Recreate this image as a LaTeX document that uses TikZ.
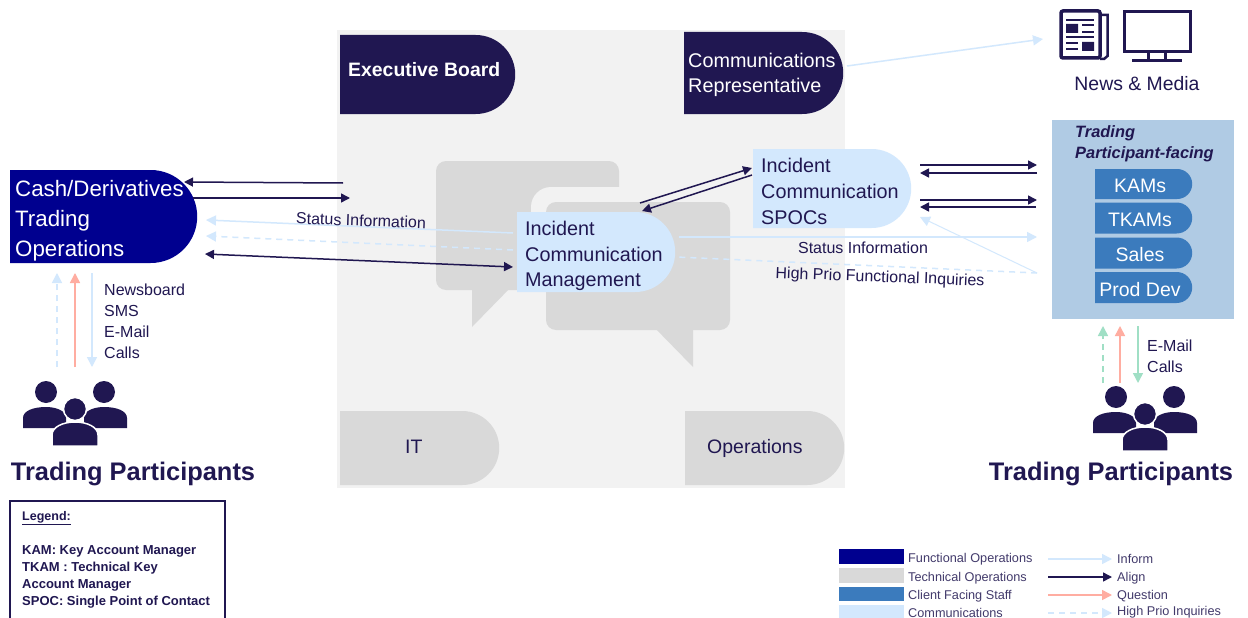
\documentclass[tikz,border=0pt]{standalone}
\usepackage{fontspec}
\setmainfont{Liberation Sans}
\usetikzlibrary{arrows.meta,shapes.misc}
\definecolor{navy}{HTML}{201751}
\definecolor{funcblue}{HTML}{00008F}
\definecolor{techgrey}{HTML}{D9D9D9}
\definecolor{paneGrey}{HTML}{F2F2F2}
\definecolor{commblue}{HTML}{D3E8FD}
\definecolor{staffblue}{HTML}{3B7BBD}
\definecolor{facingblue}{HTML}{B0CBE4}
\definecolor{salmon}{HTML}{FFADA1}
\definecolor{mint}{HTML}{A0DFC5}
\tikzset{
  dbox/.style={rounded rectangle,rounded rectangle west arc=none,inner sep=0pt,anchor=west},
  boxtext/.style={anchor=west,align=left,inner sep=0pt,text=navy,font=\fontsize{19.8}{25.6}\selectfont},
  stafftext/.style={text=white,inner sep=0pt,font=\fontsize{19.5}{24}\selectfont},
  plaintext/.style={inner sep=0pt,text=navy,font=\fontsize{16}{21}\selectfont},
  listtext/.style={anchor=west,align=left,inner sep=0pt,text=navy,font=\fontsize{16}{21}\selectfont},
  bigtext/.style={inner sep=0pt,text=navy,font=\bfseries\fontsize{25.4}{30}\selectfont},
  legendtext/.style={anchor=west,inner sep=0pt,text=navy!85,font=\fontsize{12.7}{15}\selectfont},
  swatch/.style={anchor=north west,inner sep=0pt,minimum width=65pt},
  align line/.style={draw=navy,line width=1.5pt,-{Triangle[length=9pt,width=9pt]}},
  inform line/.style={draw=commblue,line width=1.5pt,-{Triangle[length=10pt,width=10pt]}},
  prio line/.style={inform line,dash pattern=on 6pt off 5pt},
  question line/.style={draw=salmon,line width=1.5pt,-{Triangle[length=10pt,width=10pt]}},
  people/.pic={
    \fill[navy] (-29,-17) circle (11) (29,-17) circle (11);
    \fill[navy] (-52,19) -- (-52,9) .. controls (-52,2) and (-42,-2) .. (-29,-2)
      .. controls (-20,-2) and (-12,1) .. (-9,6) -- (-9,19) -- cycle;
    \fill[navy] (52,19) -- (52,9) .. controls (52,2) and (42,-2) .. (29,-2)
      .. controls (20,-2) and (12,1) .. (9,6) -- (9,19) -- cycle;
    \filldraw[navy,draw=white,line width=1.5pt] (0,0) circle (11.5);
    \filldraw[navy,draw=white,line width=1.5pt] (-23,37) -- (-23,26) .. controls (-23,18) and (-12,13) .. (0,13)
      .. controls (12,13) and (23,18) .. (23,26) -- (23,37) -- cycle;
  }
}
\begin{document}
\begin{tikzpicture}[x=1pt,y=-1pt]
\clip (0,0) rectangle (1248,618);
\fill[white] (0,0) rectangle (1248,618);
%%%%%%%%%%%%%%%%%%%%%%%%%%%%%% centre pane
\fill[paneGrey] (337,30) rectangle (845,488);
\fill[techgrey,rounded corners=10pt] (436,161) rectangle (619,290);
\fill[techgrey] (472,285) -- (513,285) -- (472,327) -- cycle;
\fill[paneGrey,rounded corners=20pt] (531,187) rectangle (745,345);
\fill[techgrey,rounded corners=10pt] (546,202) rectangle (730,330);
\fill[techgrey] (652,325) -- (693,325) -- (693,367) -- cycle;
%%%%%%%%%%%%%%%%%%%%%%%%%%%%%% boxes
\node[dbox,fill=navy,minimum width=175pt,minimum height=79pt] (board) at (340,74.5) {};
\node[boxtext,text=white,font=\bfseries\fontsize{19.4}{24}\selectfont] (boardtext) at (348,70) {Executive Board};
\node[dbox,fill=navy,minimum width=159pt,minimum height=82pt] (rep) at (684,73) {};
\node[boxtext,text=white] (reptext) at (688,75) {Communications\\Representative};
\node[dbox,fill=techgrey,minimum width=159pt,minimum height=74pt] (it) at (340,448) {};
\node[boxtext,font=\fontsize{19.5}{24}\selectfont] (ittext) at (405,446.5) {IT};
\node[dbox,fill=techgrey,minimum width=159pt,minimum height=74pt] (ops) at (685,448) {};
\node[boxtext,font=\fontsize{19.5}{24}\selectfont] (opstext) at (707,448) {Operations};
\node[dbox,fill=commblue,minimum width=158pt,minimum height=80pt] (icm) at (517,252) {};
\node[boxtext] (icmtext) at (525,256) {Incident\\Communication\\Management};
\node[dbox,fill=commblue,minimum width=158pt,minimum height=79pt] (spoc) at (753,188.5) {};
\node[boxtext] (spoctext) at (761,191.5) {Incident\\Communication\\SPOCs};
\node[dbox,fill=funcblue,minimum width=187pt,minimum height=93pt] (cash) at (10,216.5) {};
\node[boxtext,text=white,font=\fontsize{22.3}{30}\selectfont] (cashtext) at (15,221) {Cash/Derivatives\\Trading\\Operations};
%%%%%%%%%%%%%%%%%%%%%%%%%%%%%% participant-facing panel
\node[anchor=north west,fill=facingblue,inner sep=0pt,minimum width=182pt,minimum height=199pt] (facing) at (1052,120) {};
\node[anchor=west,align=left,inner sep=0pt,text=navy,font=\bfseries\itshape\fontsize{16.4}{21}\selectfont] (facingtext) at (1075,143.5) {Trading\\Participant-facing};
\node[dbox,fill=staffblue,minimum width=97pt,minimum height=30pt] (kams) at (1095,184) {};
\node[stafftext] (kamstext) at (1140,185.5) {KAMs};
\node[dbox,fill=staffblue,minimum width=97pt,minimum height=31pt] (tkams) at (1095,218) {};
\node[stafftext] (tkamstext) at (1140,220) {TKAMs};
\node[dbox,fill=staffblue,minimum width=97pt,minimum height=31pt] (sales) at (1095,253) {};
\node[stafftext] (salestext) at (1140,255) {Sales};
\node[dbox,fill=staffblue,minimum width=97pt,minimum height=31pt] (proddev) at (1095,287.5) {};
\node[stafftext] (proddevtext) at (1140,289.5) {Prod Dev};
%%%%%%%%%%%%%%%%%%%%%%%%%%%%%% news and media icons
\draw[navy,line width=3.5pt,rounded corners=2pt] (1061,11) rectangle (1100,58);
\draw[navy,line width=2.5pt] (1102,15) -- (1107.5,15) -- (1107.5,56) -- (1104,59) -- (1100,59);
\draw[navy,line width=2.5pt] (1066,20) -- (1094,20) (1082,25) -- (1094,25) (1082,32) -- (1094,32)
  (1066,37) -- (1094,37) (1066,43) -- (1078,43) (1066,49) -- (1078,49);
\fill[navy] (1066,24) rectangle (1078,33) (1082,42) rectangle (1094,51);
\draw[navy,line width=3pt] (1124.5,12) rectangle (1190.5,52);
\draw[navy,line width=3pt] (1148,52) -- (1148,60) (1165,52) -- (1165,60) (1132,60.5) -- (1182,60.5);
\node[plaintext,font=\fontsize{19.4}{24}\selectfont] (news) at (1137,84) {News \& Media};
%%%%%%%%%%%%%%%%%%%%%%%%%%%%%% free ends of the connectors
\coordinate (a1) at (343,183);
\coordinate (a2) at (184,182);
\coordinate (a3) at (193,198);
\coordinate (a4) at (350,198);
\coordinate (a5) at (513,233);
\coordinate (a6) at (206,220);
\coordinate (a7) at (513,250);
\coordinate (a8) at (206,236);
\coordinate (a9) at (205,254);
\coordinate (a10) at (513,267);
\coordinate (b1) at (640,203);
\coordinate (b2) at (752,168);
\coordinate (b3) at (752,175);
\coordinate (b4) at (642,211);
\coordinate (c1) at (920,165);
\coordinate (c2) at (1037,165);
\coordinate (c3) at (1037,173);
\coordinate (c4) at (920,173);
\coordinate (c5) at (920,200);
\coordinate (c6) at (1037,200);
\coordinate (c7) at (1036,207);
\coordinate (c8) at (920,207);
\coordinate (c9) at (679,237);
\coordinate (c10) at (1037,237);
\coordinate (c11) at (1037,273);
\coordinate (c12) at (676,257);
\coordinate (c13) at (920,217);
\coordinate (d1) at (847,66);
\coordinate (d2) at (1043,39);
\coordinate (e1) at (57,367);
\coordinate (e2) at (57,273);
\coordinate (e3) at (75,367);
\coordinate (e4) at (75,273);
\coordinate (e5) at (92,273);
\coordinate (e6) at (92,367);
\coordinate (f1) at (1103,383);
\coordinate (f2) at (1103,326);
\coordinate (f3) at (1120,383);
\coordinate (f4) at (1120,326);
\coordinate (f5) at (1138,326);
\coordinate (f6) at (1138,383);
%%%%%%%%%%%%%%%%%%%%%%%%%%%%%% connectors
\draw[align line] (a1) -- (a2);
\draw[align line] (a3) -- (a4);
\draw[inform line] (a5) -- (a6);
\draw[prio line] (a7) -- (a8);
\draw[align line,{Triangle[length=9pt,width=9pt]}-{Triangle[length=9pt,width=9pt]}] (a9) -- (a10);
\draw[align line] (b1) -- (b2);
\draw[align line] (b3) -- (b4);
\draw[align line] (c1) -- (c2);
\draw[align line] (c3) -- (c4);
\draw[align line] (c5) -- (c6);
\draw[align line] (c7) -- (c8);
\draw[inform line] (c9) -- (c10);
\draw[prio line,-] (c11) -- (c12);
\draw[inform line,line width=1pt] (c11) -- (c13);
\draw[inform line] (d1) -- (d2);
\draw[prio line] (e1) -- (e2);
\draw[question line] (e3) -- (e4);
\draw[inform line] (e5) -- (e6);
\draw[prio line,draw=mint] (f1) -- (f2);
\draw[question line] (f3) -- (f4);
\draw[inform line,draw=mint] (f5) -- (f6);
%%%%%%%%%%%%%%%%%%%%%%%%%%%%%% connector labels
\node[plaintext,rotate=-2] (status1) at (361,220.5) {Status Information};
\node[plaintext] (status2) at (863,248) {Status Information};
\node[plaintext,rotate=-2.2] (inquiries) at (880,278) {High Prio Functional Inquiries};
\node[listtext] (channels1) at (104,321) {Newsboard\\SMS\\E-Mail\\Calls};
\node[listtext] (channels2) at (1147,356) {E-Mail\\Calls};
%%%%%%%%%%%%%%%%%%%%%%%%%%%%%% participants
\pic at (75,409) {people};
\pic at (1145,414) {people};
\node[bigtext] (trading1) at (133,473.5) {Trading Participants};
\node[bigtext] (trading2) at (1111,473.5) {Trading Participants};
%%%%%%%%%%%%%%%%%%%%%%%%%%%%%% legends
\draw[navy,line width=1.3pt] (10,501) rectangle (225,650);
\node[anchor=west,inner sep=0pt,text=navy,font=\bfseries\fontsize{12.5}{17}\selectfont] (legendhead) at (22,518) {\underline{Legend:}};
\node[anchor=north west,align=left,inner sep=0pt,text=navy,font=\bfseries\fontsize{13}{17}\selectfont] (legendbody) at (22,545) {KAM: Key Account Manager\\TKAM : Technical Key\\Account Manager\\SPOC: Single Point of Contact};
\node[swatch,fill=funcblue,minimum height=15pt] (sw1) at (839,549) {};
\node[swatch,fill=techgrey,minimum height=15pt] (sw2) at (839,568) {};
\node[swatch,fill=staffblue,minimum height=14pt] (sw3) at (839,587) {};
\node[swatch,fill=commblue,minimum height=15pt] (sw4) at (839,605) {};
\node[legendtext] (lab1) at (908,559) {Functional Operations};
\node[legendtext] (lab2) at (908,578) {Technical Operations};
\node[legendtext] (lab3) at (908,596.5) {Client Facing Staff};
\node[legendtext] (lab4) at (908,612.5) {Communications};
\node[legendtext] (lab5) at (1117,559) {Inform};
\node[legendtext] (lab6) at (1117,578) {Align};
\node[legendtext] (lab7) at (1117,596) {Question};
\node[legendtext] (lab8) at (1117,612.5) {High Prio Inquiries};
\coordinate (g1) at (1048,559);
\coordinate (g2) at (1048,577);
\coordinate (g3) at (1048,595);
\coordinate (g4) at (1048,613);
\coordinate (h1) at (1112,559);
\coordinate (h2) at (1112,577);
\coordinate (h3) at (1112,595);
\coordinate (h4) at (1112,613);
\draw[inform line] (g1) -- (h1);
\draw[align line] (g2) -- (h2);
\draw[question line] (g3) -- (h3);
\draw[prio line] (g4) -- (h4);
\end{tikzpicture}
\end{document}
